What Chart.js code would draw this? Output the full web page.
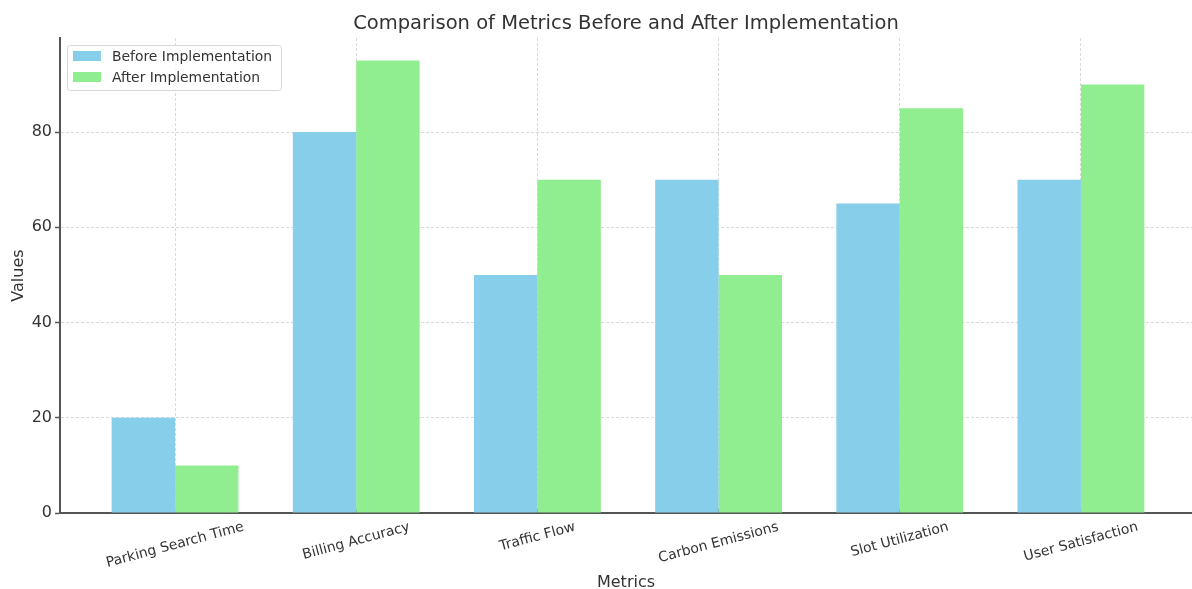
<!DOCTYPE html>
<html>
<head>
<meta charset="utf-8">
<script src="https://cdn.jsdelivr.net/npm/chart.js@4.4.0/dist/chart.umd.min.js"></script>
<style>
  html, body { margin: 0; padding: 0; background: #ffffff; }
  canvas { display: block; }
</style>
</head>
<body>
<canvas id="chart" width="1192" height="589"></canvas>
<script>
// Metric names along the horizontal axis
const categories = [
  'Parking Search Time',
  'Billing Accuracy',
  'Traffic Flow',
  'Carbon Emissions',
  'Slot Utilization',
  'User Satisfaction'
];

// Series values
const beforeValues = [20, 80, 50, 70, 65, 70];
const afterValues  = [10, 95, 70, 50, 85, 90];

// Series names
const seriesNames = ['Before Implementation', 'After Implementation'];

// Value-axis tick labels
const yTicks = [0, 20, 40, 60, 80];

const FONT = '"DejaVu Sans", "Liberation Sans", sans-serif';
const TEXT = '#333333';
const AXIS = '#555555';
const GRID = '#cfcfcf';

Chart.defaults.font.family = FONT;
Chart.defaults.color = TEXT;

// Category labels, slanted 15 degrees and centred under each group
const slantedLabels = {
  id: 'slantedLabels',
  afterDraw(chart) {
    const xs = chart.scales.x;
    const ctx = chart.ctx;
    const ang = 15 * Math.PI / 180;
    const fs = 13.9;
    const h = fs * 1.164;
    ctx.save();
    ctx.font = fs + 'px ' + FONT;
    ctx.fillStyle = TEXT;
    ctx.textAlign = 'center';
    ctx.textBaseline = 'middle';
    categories.forEach((lab, i) => {
      const w = ctx.measureText(lab).width;
      const cx = xs.getPixelForValue(i);
      const cy = chart.chartArea.bottom + 6 + (w * Math.sin(ang) + h * Math.cos(ang)) / 2;
      ctx.save();
      ctx.translate(cx, cy);
      ctx.rotate(-ang);
      ctx.fillText(lab, 0, 0);
      ctx.restore();
    });
    ctx.restore();
  }
};

// Framed legend in the upper-left corner of the plot
const boxedLegend = {
  id: 'boxedLegend',
  afterDatasetsDraw(chart) {
    const ctx = chart.ctx;
    const a = chart.chartArea;
    const x0 = a.left + 7, y0 = a.top + 7, w = 214, h = 45;
    ctx.save();
    ctx.fillStyle = 'rgba(255,255,255,0.8)';
    ctx.strokeStyle = '#d6d6d6';
    ctx.lineWidth = 1;
    ctx.beginPath();
    ctx.roundRect(x0 + 0.5, y0 + 0.5, w, h, 3);
    ctx.fill();
    ctx.stroke();
    ctx.font = '13.9px ' + FONT;
    ctx.textAlign = 'left';
    ctx.textBaseline = 'middle';
    chart.data.datasets.forEach((ds, i) => {
      const cy = y0 + 11 + i * 21;
      ctx.fillStyle = ds.backgroundColor;
      ctx.fillRect(x0 + 6, cy - 5, 28, 10);
      ctx.fillStyle = TEXT;
      ctx.fillText(ds.label, x0 + 45, cy + 1);
    });
    ctx.restore();
  }
};

const toPoints = vals => vals.map((v, i) => ({ x: i, y: v }));

new Chart(document.getElementById('chart'), {
  type: 'bar',
  data: {
    datasets: [
      {
        label: seriesNames[0],
        data: toPoints(beforeValues),
        backgroundColor: '#87CEEB',
        borderWidth: 0,
        categoryPercentage: 0.7,
        barPercentage: 1.0
      },
      {
        label: seriesNames[1],
        data: toPoints(afterValues),
        backgroundColor: '#90EE90',
        borderWidth: 0,
        categoryPercentage: 0.7,
        barPercentage: 1.0
      }
    ]
  },
  options: {
    responsive: false,
    animation: false,
    devicePixelRatio: 1,
    layout: { padding: 0 },
    plugins: {
      legend: { display: false },
      tooltip: { enabled: false },
      title: {
        display: true,
        text: 'Comparison of Metrics Before and After Implementation',
        color: TEXT,
        fullSize: false,
        font: { family: FONT, size: 19.5, weight: 'normal' },
        padding: { top: 12, bottom: 2.6 }
      }
    },
    scales: {
      x: {
        type: 'linear',
        bounds: 'data',
        offset: false,
        min: -0.635,
        max: 5.613,
        afterBuildTicks: s => { s.ticks = categories.map((_, i) => ({ value: i })); },
        ticks: { display: false },
        grid: { offset: false, color: GRID, lineWidth: 0.8, drawTicks: true, tickLength: -4, tickColor: AXIS, tickWidth: 1.2 },
        border: { display: true, color: AXIS, width: 2, dash: [3, 2] },
        title: {
          display: true,
          text: 'Metrics',
          color: TEXT,
          font: { family: FONT, size: 16 },
          padding: { top: 0, bottom: -3 }
        },
        afterFit: s => { s.height = 76; }
      },
      y: {
        type: 'linear',
        bounds: 'data',
        min: 0,
        max: 99.75,
        afterBuildTicks: s => { s.ticks = yTicks.map(v => ({ value: v })); },
        ticks: { color: TEXT, font: { family: FONT, size: 16 }, padding: 3 },
        grid: { color: GRID, lineWidth: 0.8, tickLength: 5, tickColor: AXIS, tickWidth: 1.5 },
        border: { display: true, color: AXIS, width: 2, dash: [3, 2] },
        title: {
          display: true,
          text: 'Values',
          color: TEXT,
          font: { family: FONT, size: 16 },
          padding: { top: 9, bottom: 0 }
        },
        afterFit: s => { s.width = 60; }
      }
    }
  },
  plugins: [boxedLegend, slantedLabels]
});
</script>
</body>
</html>
